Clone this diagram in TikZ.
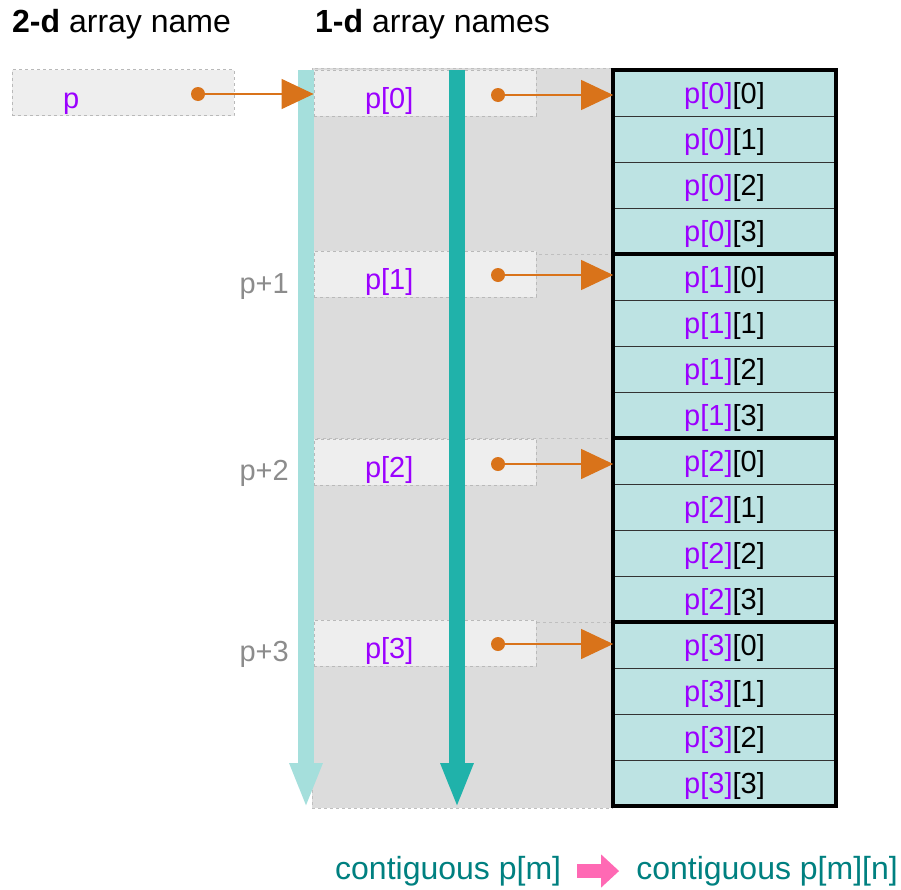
\documentclass[tikz,border=0pt]{standalone}
\usepackage{fontspec}
\setmainfont{Liberation Sans}
\usetikzlibrary{arrows.meta}

\definecolor{idxpurple}{HTML}{9B00FF}
\definecolor{cellfill}{HTML}{BDE3E3}
\definecolor{boxfill}{HTML}{EEEEEE}
\definecolor{bgfill}{HTML}{DCDCDC}
\definecolor{ptrorange}{HTML}{D9731A}
\definecolor{deepteal}{HTML}{20B2AA}
\definecolor{paleteal}{HTML}{A5DFDC}
\definecolor{legendteal}{HTML}{008080}
\definecolor{hotpink}{HTML}{FF69B4}

\newcommand\cellfont{\fontsize{29}{34}\selectfont}
\newcommand\headfont{\fontsize{32}{38}\selectfont}

\begin{document}
\begin{tikzpicture}[
  x=1pt, y=-1pt,
  namebox/.style={
    draw=gray!55, dashed, fill=boxfill, line width=0.8pt,
    minimum width=222pt, minimum height=46pt,
    text width=120pt, inner xsep=51pt, inner ysep=0pt, align=left,
    text height=31pt, text depth=0pt,
    font=\cellfont, text=idxpurple
  },
  cell/.style={
    draw=black!80, fill=cellfill, line width=0.8pt,
    minimum width=222pt, minimum height=46pt,
    text height=21pt, text depth=0pt,
    inner sep=0pt, font=\cellfont
  },
  grp/.style={
    draw=gray!50, dashed, fill=bgfill, line width=0.8pt
  },
  ptrdot/.style={
    circle, fill=ptrorange, inner sep=0pt, minimum size=14pt
  },
  ptr/.style={
    -{Triangle[length=32pt,width=30pt]}, draw=ptrorange, line width=1.2pt
  },
  flow/.style={
    -{Triangle[length=45pt,width=30pt]}, line width=16pt
  },
  offs/.style={
    font=\cellfont, text=gray!90, anchor=east, inner sep=0pt
  },
  head/.style={
    font=\headfont, anchor=west, inner sep=0pt
  },
  legend/.style={
    font=\headfont, text=legendteal, inner sep=0pt
  }
]
\useasboundingbox (0,0) rectangle (901,889);

% Headings
\node[head] (h2) at (12,24)  {\textbf{2-d} array name};
\node[head] (h1) at (315,24) {\textbf{1-d} array names};

% Background of the 1-d names, one band per row
\draw[grp] (312,68)  rectangle (612,254);
\draw[grp] (312,254) rectangle (612,438);
\draw[grp] (312,438) rectangle (612,622);
\draw[grp] (312,622) rectangle (612,808);

% Name boxes
\node[namebox] (bp) at (123,92.5) {p};
\node[namebox] (b0) at (425,93)  {p[0]};
\node[namebox] (b1) at (425,274) {p[1]};
\node[namebox] (b2) at (425,462) {p[2]};
\node[namebox] (b3) at (425,643) {p[3]};

% Offsets
\node[offs] (o1) at (289,287) {p+1};
\node[offs] (o2) at (289,473) {p+2};
\node[offs] (o3) at (289,654) {p+3};

% Cells
\foreach \i in {0,...,3}
  \foreach \j in {0,...,3}
    \node[cell] (c\i\j) at (724.5,{93+46*(4*\i+\j)})
      {\textcolor{idxpurple}{p[\i]}[\j]};
\foreach \i in {0,...,3}
  \draw[line width=4pt] (c\i0.north west) rectangle (c\i3.south east);

% Walk directions
\coordinate (ptop) at (306,70);
\coordinate (pend) at (306,808);
\coordinate (qtop) at (457,70);
\coordinate (qend) at (457,808);
\draw[flow, draw=paleteal] (ptop) -- (pend);
\draw[flow, draw=deepteal] (qtop) -- (qend);

% Pointers
\node[ptrdot] (dp) at (198,94) {};
\node[ptrdot] (d0) at (498,95) {};
\node[ptrdot] (d1) at (498,275) {};
\node[ptrdot] (d2) at (498,464) {};
\node[ptrdot] (d3) at (498,644) {};
\draw[ptr] (dp.east) -- (dp -| b0.west);
\draw[ptr] (d0.east) -- (d0 -| c00.west);
\draw[ptr] (d1.east) -- (d1 -| c10.west);
\draw[ptr] (d2.east) -- (d2 -| c20.west);
\draw[ptr] (d3.east) -- (d3 -| c30.west);

% Legend
\node[legend, anchor=west] (cm)  at (335,871) {contiguous p[m]};
\node[legend, anchor=east] (cmn) at (898,871) {contiguous p[m][n]};
\draw[-{Triangle[length=18pt,width=32pt]}, draw=hotpink, line width=14pt,
  shorten <=16pt, shorten >=17pt] (cm.east) -- (cmn.west);

\end{tikzpicture}
\end{document}
